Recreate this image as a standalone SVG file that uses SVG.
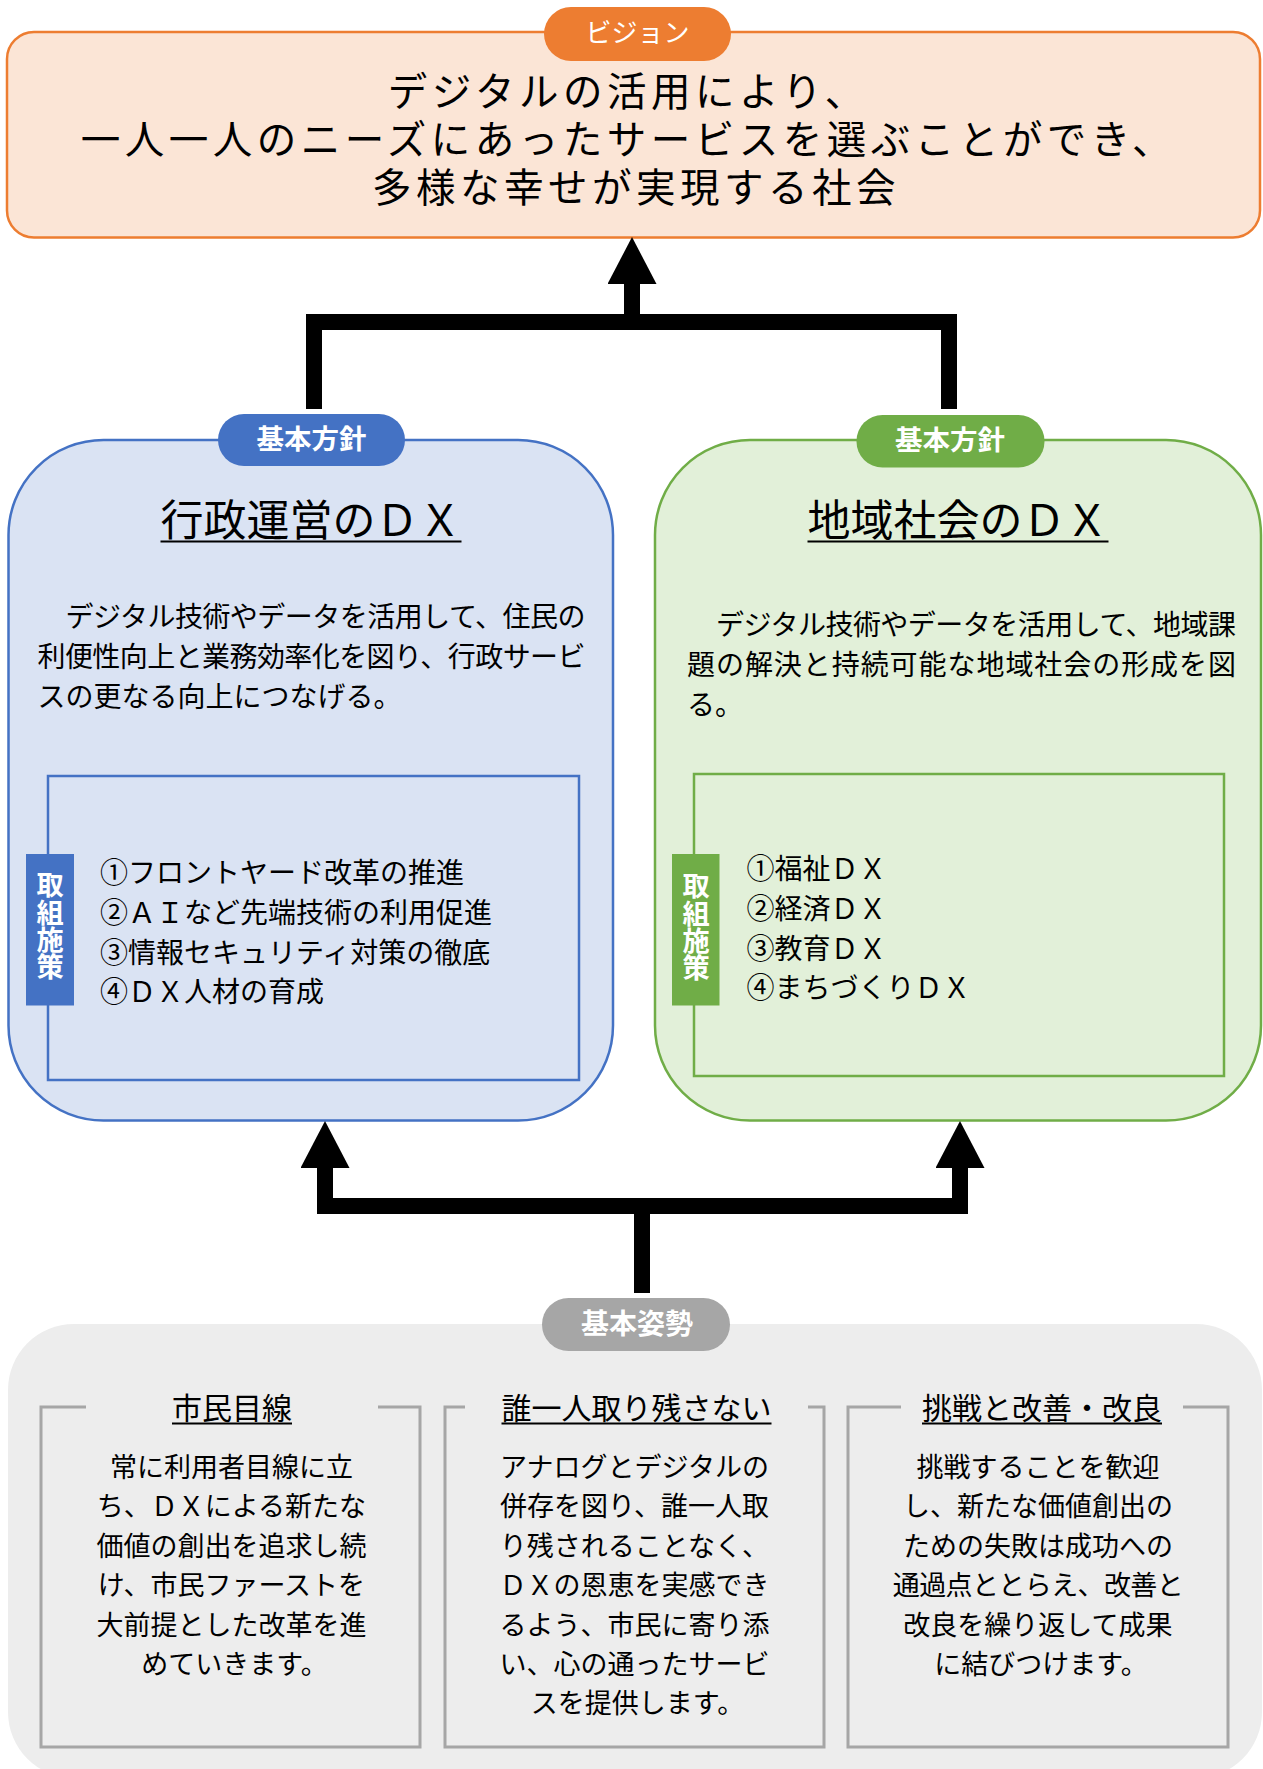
<svg xmlns="http://www.w3.org/2000/svg" width="1263" height="1769" viewBox="0 0 1263 1769">
<defs>
<style>
.t{font-family:'Noto Sans CJK JP','Noto Sans CJK SC',sans-serif;fill:#000}
.tv{font-family:'Liberation Sans','Noto Sans CJK JP','Noto Sans CJK SC',sans-serif;fill:#000}
.w{font-family:'Noto Sans CJK JP','Noto Sans CJK SC',sans-serif;fill:#fff}
.b{font-weight:700}
.m{text-anchor:middle}
.v{writing-mode:vertical-rl;text-orientation:upright}
.ul{stroke:#000;stroke-width:2}
.br{fill:none;stroke:#A6A6A6;stroke-width:3}
.conn{fill:none;stroke:#000;stroke-width:16;stroke-linejoin:miter;stroke-linecap:butt}
</style>
<marker id="ah" markerUnits="userSpaceOnUse" viewBox="0 0 47 49" refX="0" refY="24.5" markerWidth="47" markerHeight="49" orient="auto-start-reverse">
<path d="M0,0 L47,24.5 L0,49 Z" fill="#000"/>
</marker>
</defs>
<rect width="1263" height="1769" fill="#fff"/>

<g id="vision">
<rect x="7" y="32" width="1253" height="205.5" rx="27" fill="#FBE5D6" stroke="#ED7D31" stroke-width="2.5"/>
<rect x="544" y="7" width="187" height="54" rx="27" fill="#ED7D31"/>
<text class="w m" x="637.5" y="41.5" font-size="26">ビジョン</text>
<text class="tv m" font-size="39.5" letter-spacing="4.5">
<tspan x="636" y="105.5">デジタルの活用により、</tspan>
<tspan x="636" y="153.5">一人一人のニーズにあったサービスを選ぶことができ、</tspan>
<tspan x="636" y="201.5">多様な幸せが実現する社会</tspan>
</text>
</g>

<g id="policy-admin">
<rect x="8.5" y="440" width="604.5" height="680.5" rx="95" fill="#DAE3F3" stroke="#4472C4" stroke-width="2.5"/>
<rect x="218" y="414" width="187" height="52" rx="26" fill="#4472C4"/>
<text class="w b m" x="311.5" y="449" font-size="27.5">基本方針</text>
<text class="t m" x="311" y="536" font-size="43">行政運営のＤＸ</text>
<line class="ul" x1="160.5" y1="541.5" x2="461.5" y2="541.5"/>
<text class="t" font-size="28">
<tspan x="65.5" y="627" textLength="520" lengthAdjust="spacing">デジタル技術やデータを活用して、住民の</tspan>
<tspan x="37.5" y="667" textLength="548" lengthAdjust="spacing">利便性向上と業務効率化を図り、行政サービ</tspan>
<tspan x="37.5" y="707">スの更なる向上につなげる。</tspan>
</text>
<rect x="48" y="776" width="531" height="304" fill="none" stroke="#4472C4" stroke-width="2.5"/>
<rect x="26" y="854" width="48" height="151.5" fill="#4472C4"/>
<text class="w b v" x="50" y="871.5" font-size="27.2">取組施策</text>
<text class="t" font-size="28">
<tspan x="100" y="883">①フロントヤード改革の推進</tspan>
<tspan x="100" y="923">②ＡＩなど先端技術の利用促進</tspan>
<tspan x="100" y="963">③情報セキュリティ対策の徹底</tspan>
<tspan x="100" y="1002">④ＤＸ人材の育成</tspan>
</text>
</g>

<g id="policy-region">
<rect x="655" y="440" width="606" height="680.5" rx="95" fill="#E2F0D9" stroke="#70AD47" stroke-width="2.5"/>
<rect x="856.5" y="415" width="188" height="52.5" rx="26" fill="#70AD47"/>
<text class="w b m" x="950" y="450" font-size="27.5">基本方針</text>
<text class="t m" x="958" y="536" font-size="43">地域社会のＤＸ</text>
<line class="ul" x1="807.5" y1="541.5" x2="1108.5" y2="541.5"/>
<text class="t" font-size="28">
<tspan x="716" y="634.5" textLength="520" lengthAdjust="spacing">デジタル技術やデータを活用して、地域課</tspan>
<tspan x="687" y="674.5" textLength="549" lengthAdjust="spacing">題の解決と持続可能な地域社会の形成を図</tspan>
<tspan x="687" y="714.5">る。</tspan>
</text>
<rect x="694" y="774" width="530" height="302" fill="none" stroke="#70AD47" stroke-width="2.5"/>
<rect x="672" y="854" width="47.5" height="151.5" fill="#70AD47"/>
<text class="w b v" x="696" y="872.5" font-size="27.2">取組施策</text>
<text class="t" font-size="28">
<tspan x="746.5" y="879">①福祉ＤＸ</tspan>
<tspan x="746.5" y="919">②経済ＤＸ</tspan>
<tspan x="746.5" y="959">③教育ＤＸ</tspan>
<tspan x="746.5" y="998">④まちづくりＤＸ</tspan>
</text>
</g>

<g id="stance">
<rect x="8" y="1324" width="1254" height="454" rx="66" fill="#EDEDED"/>
<rect x="542" y="1298" width="188" height="53" rx="26.5" fill="#A6A6A6"/>
<text class="w b m" x="637" y="1334" font-size="28">基本姿勢</text>
</g>

<g id="stance-citizen">
<path class="br" d="M86,1407 H41 V1747 H420 V1407 H378"/>
<text class="t m" x="232" y="1418.5" font-size="30">市民目線</text>
<line class="ul" x1="172" y1="1423.5" x2="292" y2="1423.5"/>
<text class="t m" font-size="27">
<tspan x="234.5" y="1477">常に利用者目線に立</tspan>
<tspan x="234.5" y="1516.4">ち、ＤＸによる新たな</tspan>
<tspan x="234.5" y="1555.8">価値の創出を追求し続</tspan>
<tspan x="234.5" y="1595.2">け、市民ファーストを</tspan>
<tspan x="234.5" y="1634.6">大前提とした改革を進</tspan>
<tspan x="234.5" y="1674">めていきます。</tspan>
</text>
</g>

<g id="stance-inclusive">
<path class="br" d="M465,1407 H445 V1747 H824 V1407 H808"/>
<text class="t m" x="636.5" y="1418.5" font-size="30">誰一人取り残さない</text>
<line class="ul" x1="501.5" y1="1423.5" x2="771.5" y2="1423.5"/>
<text class="t m" font-size="27">
<tspan x="637.5" y="1477">アナログとデジタルの</tspan>
<tspan x="637.5" y="1516.4">併存を図り、誰一人取</tspan>
<tspan x="637.5" y="1555.8">り残されることなく、</tspan>
<tspan x="637.5" y="1595.2">ＤＸの恩恵を実感でき</tspan>
<tspan x="637.5" y="1634.6">るよう、市民に寄り添</tspan>
<tspan x="637.5" y="1674">い、心の通ったサービ</tspan>
<tspan x="637.5" y="1713.4">スを提供します。</tspan>
</text>
</g>

<g id="stance-challenge">
<path class="br" d="M901,1407 H848 V1747 H1228 V1407 H1183"/>
<text class="t m" x="1042" y="1418.5" font-size="30">挑戦と改善・改良</text>
<line class="ul" x1="922" y1="1423.5" x2="1162" y2="1423.5"/>
<text class="t m" font-size="27">
<tspan x="1041" y="1477">挑戦することを歓迎</tspan>
<tspan x="1041" y="1516.4">し、新たな価値創出の</tspan>
<tspan x="1041" y="1555.8">ための失敗は成功への</tspan>
<tspan x="1041" y="1595.2" textLength="291" lengthAdjust="spacing">通過点ととらえ、改善と</tspan>
<tspan x="1041" y="1634.6">改良を繰り返して成果</tspan>
<tspan x="1041" y="1674">に結びつけます。</tspan>
</text>
</g>

<g id="connectors">
<path class="conn" d="M314,409 V322 H949 V409"/>
<path class="conn" d="M632,322 V284" marker-end="url(#ah)"/>
<path class="conn" d="M325,1168 V1206 H960 V1168" marker-start="url(#ah)" marker-end="url(#ah)"/>
<path class="conn" d="M642,1293 V1206"/>
</g>
</svg>
